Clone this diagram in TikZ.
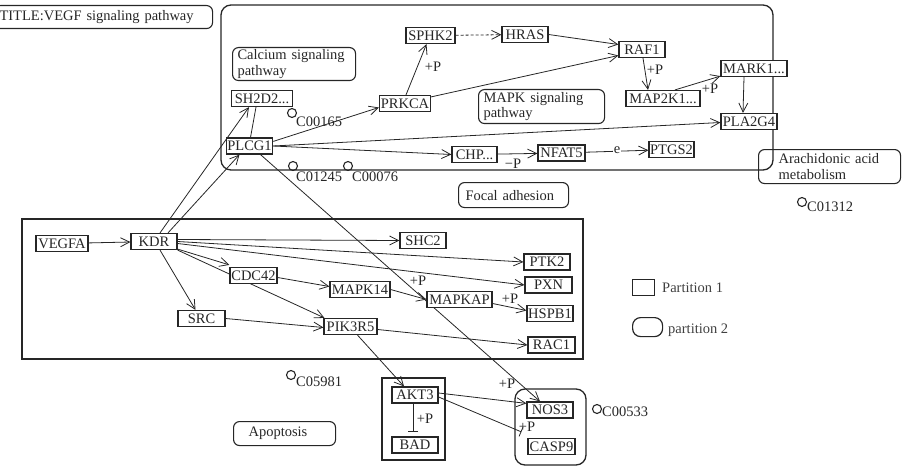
\documentclass[tikz,border=0pt]{standalone}
\usepackage{fontspec}
\setmainfont{Liberation Serif}
\usetikzlibrary{arrows.meta,calc}
\pgfdeclarelayer{bg}
\pgfsetlayers{bg,main}
\begin{document}
\begin{tikzpicture}[x=1pt,y=-1pt,
 every node/.style={font=\fontsize{14.5}{15.5}\selectfont, text=black!85},
 gene/.style={draw=black!85, line width=1.2pt, fill=white, minimum height=16pt, inner xsep=1pt, inner ysep=0pt},
 grp/.style={draw=black!85, line width=1.1pt, rounded corners=6pt, align=left, anchor=north west, inner ysep=0pt},
 cpd/.style={circle, draw=black!85, line width=1.1pt, minimum size=9pt, inner sep=0pt},
 cpdlbl/.style={anchor=west, inner sep=0pt},
 lbl/.style={inner sep=0pt},
 link/.style={draw=black!85, line width=0.8pt, -{Straight Barb[length=9pt,width=9pt]}},
 plain/.style={draw=black!85, line width=0.8pt},
 inhib/.style={draw=black!85, line width=0.8pt, -{Bar[width=10pt]}},
 part/.style={draw=black!85, line width=1.3pt}
]
\useasboundingbox (0,0) rectangle (904,468);

% partitions
\begin{pgfonlayer}{bg}
\draw[part, rounded corners=10pt] (221,5) rectangle (773,170);
\draw[part] (22,219) rectangle (583,359);
\draw[part] (382,378) rectangle (445,460);
\draw[part, rounded corners=10pt] (515,389) rectangle (586,465);
\end{pgfonlayer}

% labels / pathway boxes
\node[grp, inner xsep=5pt, text width=208pt, minimum height=23pt] (title) at (-6,5) {TITLE:VEGF~signaling~pathway};
\node[grp, inner xsep=5pt, text width=113pt, minimum height=33pt] (calc) at (232,47) {Calcium~signaling\\pathway};
\node[grp, inner xsep=5pt, text width=116pt, minimum height=34pt] (mapk) at (478,89) {MAPK~signaling\\pathway};
\node[grp, inner xsep=20pt, text width=102pt, minimum height=34pt] (arach) at (758,149) {Arachidonic~acid\\metabolism};
\node[grp, inner xsep=7pt, text width=96pt, minimum height=25pt] (focal) at (458,182) {Focal~adhesion};
\node[grp, inner xsep=15pt, text width=72pt, minimum height=24pt] (apop) at (233,421) {Apoptosis};

% genes
\node[gene, minimum width=61pt] (SH2D2) at (262,98.5) {SH2D2...};
\node[gene, minimum width=46pt] (PLCG1) at (249.5,146) {PLCG1};
\node[gene, minimum width=51pt] (PRKCA) at (405,103.5) {PRKCA};
\node[gene, minimum width=49pt] (SPHK2) at (430.5,35.5) {SPHK2};
\node[gene, minimum width=46pt] (HRAS) at (525,34.5) {HRAS};
\node[gene, minimum width=46pt] (RAF1) at (642,49.5) {RAF1};
\node[gene, minimum width=66pt] (MARK1) at (754,68.5) {MARK1...};
\node[gene, minimum width=74pt] (MAP2K1) at (663,98.5) {MAP2K1...};
\node[gene, minimum width=56pt] (PLA2G4) at (749,121.5) {PLA2G4};
\node[gene, minimum width=45pt] (CHP) at (474.5,154.5) {CHP...};
\node[gene, minimum width=47pt] (NFAT5) at (561.5,153) {NFAT5};
\node[gene, minimum width=45pt] (PTGS2) at (671.5,149.5) {PTGS2};

\node[gene, minimum width=52pt] (VEGFA) at (62,243.5) {VEGFA};
\node[gene, minimum width=46pt] (KDR) at (154,241.5) {KDR};
\node[gene, minimum width=47pt] (CDC42) at (253.5,275.5) {CDC42};
\node[gene, minimum width=47pt] (SRC) at (201.5,318.5) {SRC};
\node[gene, minimum width=46pt] (SHC2) at (423,240.5) {SHC2};
\node[gene, minimum width=46pt] (PTK2) at (547,262) {PTK2};
\node[gene, minimum width=47pt] (PXN) at (548.5,285) {PXN};
\node[gene, minimum width=60pt] (MAPK14) at (360,289.5) {MAPK14};
\node[gene, minimum width=65pt] (MAPKAP) at (459.5,299.5) {MAPKAP};
\node[gene, minimum width=46pt] (HSPB1) at (550,313.5) {HSPB1};
\node[gene, minimum width=53pt] (PIK3R5) at (350.5,326.5) {PIK3R5};
\node[gene, minimum width=47pt] (RAC1) at (551.5,345) {RAC1};

\node[gene, minimum width=46pt] (AKT3) at (415,395) {AKT3};
\node[gene, minimum width=46pt] (BAD) at (415,445) {BAD};
\node[gene, minimum width=46pt] (NOS3) at (550,410) {NOS3};
\node[gene, minimum width=47pt] (CASP9) at (551.5,446.5) {CASP9};

% compounds
\node[cpd] (c165) at (292,113) {};
\node[cpdlbl] (c165l) at (296,122) {C00165};
\node[cpd] (c1245) at (293,166) {};
\node[cpdlbl] (c1245l) at (296,177) {C01245};
\node[cpd] (c76) at (348,166) {};
\node[cpdlbl] (c76l) at (352,177) {C00076};
\node[cpd] (c1312) at (802,202) {};
\node[cpdlbl] (c1312l) at (807,207) {C01312};
\node[cpd] (c5981) at (291,375) {};
\node[cpdlbl] (c5981l) at (296,382) {C05981};
\node[cpd] (c533) at (597,409) {};
\node[cpdlbl] (c533l) at (602,412) {C00533};

% legend
\node[draw=black!85, line width=1.2pt, minimum width=22pt, minimum height=16pt, inner sep=0pt, anchor=north west] (leg1) at (632,279) {};
\node[anchor=west, inner sep=0pt, text=black!75] (leg1t) at (662,288) {Partition 1};
\node[draw=black!85, line width=1.2pt, rounded corners=8pt, minimum width=30pt, minimum height=19pt, inner sep=0pt, anchor=north west] (leg2) at (632,317) {};
\node[anchor=west, inner sep=0pt, text=black!75] (leg2t) at (668,330) {partition 2};

% edge labels
\node[lbl] (p1) at (433,67) {+P};
\node[lbl] (p2) at (655,70) {+P};
\node[lbl] (p3) at (710,89) {+P};
\node[lbl] (p4) at (513,164) {−P};
\node[lbl] (p5) at (418,281) {+P};
\node[lbl] (p6) at (510,299) {+P};
\node[lbl] (p7) at (507,384) {+P};
\node[lbl] (p8) at (425,419) {+P};
\node[lbl] (p9) at (527,427) {+P};

% edges
\begin{pgfonlayer}{bg}
\draw[link] (VEGFA) -- (KDR);
\draw[link] ([xshift=6pt]KDR.north) -- ([xshift=-13pt]SH2D2.south);
\draw[link] ([xshift=14pt]KDR.north) -- ([xshift=-10pt]PLCG1.south);
\draw[plain] ([xshift=-6pt]SH2D2.south) -- ([xshift=1pt]PLCG1.north);
\draw[link] ([yshift=-4pt]PLCG1.north east) -- ([yshift=-4pt]PRKCA.west);
\draw[link] ([xshift=1pt]PRKCA.north) -- ([xshift=-4pt]SPHK2.south);
\draw[link, dash pattern=on 3pt off 2pt] (SPHK2) -- (HRAS);
\draw[link] (HRAS.east) -- ([yshift=5pt]RAF1.west);
\draw[link] ([yshift=-2pt]PRKCA.north east) -- ([yshift=-6pt]RAF1.west);
\draw[link] ([xshift=1pt]RAF1.south) -- ([xshift=-15pt]MAP2K1.north);
\draw[link] ([xshift=12pt]MAP2K1.north) -- ([yshift=1pt]MARK1.south west);
\draw[link] ([xshift=-10pt]MARK1.south) -- ([xshift=-6pt]PLA2G4.north);
\draw[link] (PLCG1.east) -- ([yshift=-1pt]PLA2G4.west);
\draw[link] (PLCG1.east) -- (CHP.west);
\draw[link] (CHP) -- (NFAT5);
\draw[link] (NFAT5) -- node[fill=white, inner sep=1pt, yshift=1pt] (elbl) {e} (PTGS2);
\draw[link] ([xshift=11pt]PLCG1.south) -- ([xshift=-10pt]NOS3.north);
\draw[link] ([yshift=2pt]KDR.east) -- (SHC2.west);
\draw[link] (KDR.east) -- (PTK2.west);
\draw[link] ([yshift=-2pt]KDR.east) -- (PXN.west);
\draw[link] ([yshift=1pt]KDR.south east) -- ([yshift=2pt]CDC42.north west);
\draw[link] (KDR.south east) -- ([xshift=1pt]PIK3R5.north west);
\draw[link] ([xshift=6pt]KDR.south) -- ([xshift=-6pt]SRC.north);
\draw[link] (SRC.east) -- ([yshift=-1pt]PIK3R5.west);
\draw[link] ([yshift=-2pt]CDC42.east) -- ([yshift=3pt]MAPK14.west);
\draw[link] (MAPK14.east) -- (MAPKAP.west);
\draw[link] ([yshift=-4pt]MAPKAP.east) -- ([yshift=3pt]HSPB1.west);
\draw[link] ([yshift=-3pt]PIK3R5.east) -- (RAC1.west);
\draw[link] ([xshift=7pt]PIK3R5.south) -- ([xshift=-11pt]AKT3.north);
\draw[link] ([yshift=2pt]AKT3.east) -- ([yshift=-2pt]NOS3.north west);
\draw[inhib] ([yshift=-2pt]AKT3.east) -- ([xshift=-6pt,yshift=6pt]CASP9.north west);
\draw[inhib] ([xshift=-2pt]AKT3.south) -- ([xshift=-2pt,yshift=5pt]BAD.north);
\end{pgfonlayer}
\end{tikzpicture}
\end{document}
